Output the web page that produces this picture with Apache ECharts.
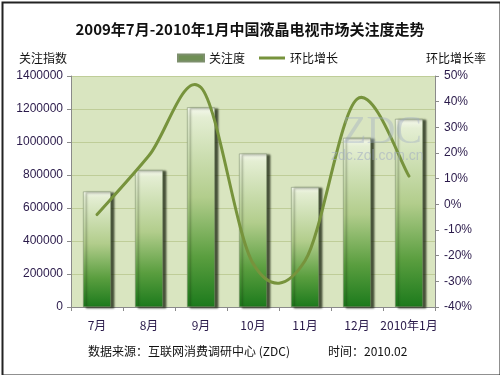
<!DOCTYPE html>
<html><head><meta charset="utf-8">
<script src="https://cdn.jsdelivr.net/npm/echarts@6/dist/echarts.min.js"></script>
<style>html,body{margin:0;padding:0;background:#fff}#c{width:500px;height:375px}</style>
</head><body><div id="c"></div>
<script>
const categories = ['7月','8月','9月','10月','11月','12月','2010年1月'];
const attention = [700000, 830000, 1210000, 930000, 727000, 1025000, 1140000];
const growth = [-4, 19, 45.5, -23, -22, 41, 11];
const leftTicks = {min: 0, max: 1400000, interval: 200000};
const rightTicks = {min: -40, max: 50, interval: 10};

const cn = '"Noto Sans CJK SC", "Liberation Sans", sans-serif';
const num = '"Liberation Sans", Arial, sans-serif';
const labelColor = '#2a1a4a';
const lineColor = '#77933c';

// Excel-like smoothed line (Catmull-Rom through every data point, using axis coords)
function renderSmooth(params, api) {
  if (params.dataIndex !== 0) return null;
  const p = growth.map((v, i) => api.coord([i, v]));
  const n = p.length;
  let d = 'M' + p[0][0] + ',' + p[0][1];
  for (let i = 0; i < n - 1; i++) {
    const a = p[Math.max(i - 1, 0)], b = p[i], c = p[i + 1], e = p[Math.min(i + 2, n - 1)];
    const c1 = [b[0] + (c[0] - a[0]) / 6, b[1] + (c[1] - a[1]) / 6];
    const c2 = [c[0] - (e[0] - b[0]) / 6, c[1] - (e[1] - b[1]) / 6];
    d += 'C' + c1[0] + ',' + c1[1] + ' ' + c2[0] + ',' + c2[1] + ' ' + c[0] + ',' + c[1];
  }
  return {type: 'path', shape: {pathData: d}, style: {fill: 'none', stroke: lineColor, lineWidth: 3, lineCap: 'round'}};
}

const chart = echarts.init(document.getElementById('c'));
chart.setOption({
  animation: false,
  backgroundColor: '#fff',
  title: {
    text: '2009年7月-2010年1月中国液晶电视市场关注度走势',
    left: 'center', top: 17,
    textStyle: {fontFamily: cn, fontSize: 15, fontWeight: 'bold', color: '#111'}
  },
  legend: {
    top: 47, left: 172, itemGap: 14, itemWidth: 26, itemHeight: 7,
    textStyle: {fontFamily: cn, fontSize: 12, color: '#111'},
    data: [
      {name: '关注度', icon: 'rect', itemStyle: {color: '#6f8f55'}},
      {name: '环比增长', icon: 'path://M0,0H26V3H0Z', itemStyle: {color: lineColor}}
    ]
  },
  grid: {left: 71, right: 65, top: 76, bottom: 68, show: true, backgroundColor: '#d9e5c0', borderWidth: 0},
  xAxis: {
    type: 'category', data: categories,
    axisLine: {lineStyle: {color: '#8a8a8a'}},
    axisTick: {show: true, interval: 0, length: 4, lineStyle: {color: '#8a8a8a'}},
    axisLabel: {fontFamily: cn, fontSize: 12, color: labelColor, margin: 12, interval: 0}
  },
  yAxis: [
    {
      type: 'value', name: '关注指数', nameLocation: 'end', nameGap: 12,
      nameTextStyle: {fontFamily: cn, fontSize: 12, color: '#111', align: 'center', padding: [0, 0, 0, -56]},
      min: leftTicks.min, max: leftTicks.max, interval: leftTicks.interval,
      axisLine: {show: true, lineStyle: {color: '#8a8a8a'}},
      axisTick: {show: true, length: 4, lineStyle: {color: '#8a8a8a'}},
      axisLabel: {fontFamily: num, fontSize: 12, color: labelColor, margin: 8, formatter: v => String(v)},
      splitLine: {lineStyle: {color: '#bfcd98', width: 1}}
    },
    {
      type: 'value', name: '环比增长率', nameLocation: 'end', nameGap: 12,
      nameTextStyle: {fontFamily: cn, fontSize: 12, color: '#111', padding: [0, 0, 0, 42]},
      min: rightTicks.min, max: rightTicks.max, interval: rightTicks.interval,
      axisLine: {show: true, lineStyle: {color: '#8a8a8a'}},
      axisTick: {show: true, length: 4, lineStyle: {color: '#8a8a8a'}},
      axisLabel: {fontFamily: num, fontSize: 12, color: labelColor, margin: 9, formatter: '{value}%'},
      splitLine: {show: false}
    }
  ],
  series: [
    {
      name: '关注度', type: 'bar', data: attention, barWidth: 28, yAxisIndex: 0,
      itemStyle: {
        color: new echarts.graphic.LinearGradient(0, 0, 0, 1, [
          {offset: 0, color: '#f6f9ee'},
          {offset: 0.05, color: '#e4eed3'},
          {offset: 0.45, color: '#b2cd8c'},
          {offset: 0.75, color: '#5a9e3f'},
          {offset: 1, color: '#1c7a1c'}
        ]),
        borderColor: '#7d8f6d', borderWidth: 0.6,
        shadowColor: 'rgba(20,30,10,0.75)', shadowOffsetX: 3, shadowOffsetY: 1, shadowBlur: 2
      },
      z: 2
    },
    {
      name: '环比增长', type: 'custom', yAxisIndex: 1,
      data: growth.map((v, i) => [i, v]),
      encode: {x: 0, y: 1},
      renderItem: renderSmooth,
      itemStyle: {color: lineColor},
      clip: false,
      z: 3
    }
  ],
  graphic: [
    {type: 'rect', left: 0, top: 0, shape: {width: 498, height: 373}, style: {fill: 'none', stroke: '#222', lineWidth: 2}, silent: true},
    {type: 'text', left: 342, top: 112, z: 10, style: {text: 'ZDC', font: '40px "Liberation Serif", serif', fill: 'rgba(160,172,195,0.4)'}},
    {type: 'text', left: 331, top: 149, z: 10, style: {text: 'zdc.zol.com.cn', font: '14px "Liberation Sans", sans-serif', fill: 'rgba(160,172,195,0.55)'}},
    {type: 'text', left: 88, top: 345, style: {text: '数据来源：互联网消费调研中心 (ZDC)', font: '12px "Noto Sans CJK SC", sans-serif', fill: '#111'}},
    {type: 'text', left: 328, top: 345, style: {text: '时间：2010.02', font: '12px "Noto Sans CJK SC", sans-serif', fill: '#111'}}
  ]
});
</script></body></html>
